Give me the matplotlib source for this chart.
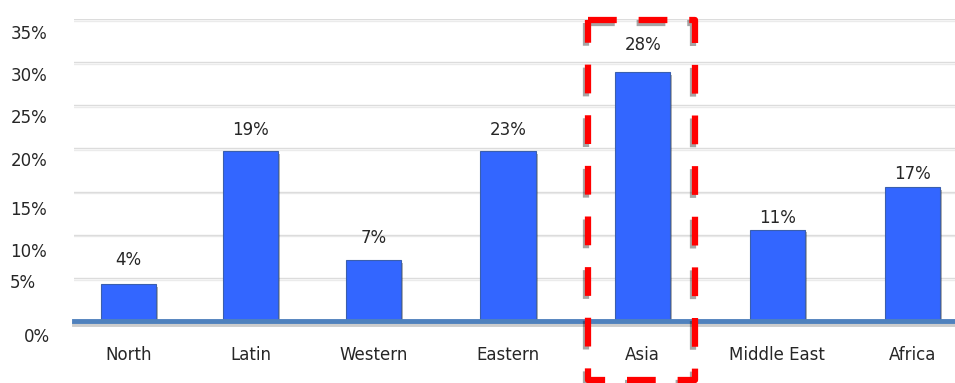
import matplotlib.pyplot as plt
import matplotlib.patheffects as pe

regions = ["North", "Latin", "Western", "Eastern", "Asia", "Middle East", "Africa"]
bar_heights = [4.3, 19.7, 7.1, 19.7, 28.8, 10.6, 15.5]
value_labels = ["4%", "19%", "7%", "23%", "28%", "11%", "17%"]
ytick_labels = ["0%", "5%", "10%", "15%", "20%", "25%", "30%", "35%"]

# layout (uneven spacing as in the original slide)
xpos = [0, 1, 2, 3.1, 4.2, 5.3, 6.4]
label_pad = [24, 21, 22, 21, 27, 12, 13]
ylabel_pos = [-1.9, 4.4, 8.0, 12.9, 18.5, 23.5, 28.4, 33.3]
ylabel_dx = [-24, -38, -27, -27, -27, -27, -27, -27]

fig = plt.figure(figsize=(9.55, 3.83), dpi=100)
ax = fig.add_axes([74 / 955, 1 - 321 / 383, 881 / 955, 302 / 383])

for g in range(5, 40, 5):
    ax.axhline(g, color="#dcdcdc", lw=1, zorder=1,
               path_effects=[pe.SimpleLineShadow(offset=(0, -1.2), alpha=0.08), pe.Normal()])

bars = ax.bar(xpos, bar_heights, width=0.45, color="#3366ff", edgecolor="#3a5fae",
              linewidth=0.8, zorder=3)
for b in bars:
    b.set_path_effects([pe.SimplePatchShadow(offset=(1.5, -2), shadow_rgbFace="k", alpha=0.3),
                        pe.Normal()])

ax.axhline(0, color="#4f81bd", lw=3.5, zorder=4, clip_on=False,
           path_effects=[pe.SimpleLineShadow(offset=(0, -2), alpha=0.2), pe.Normal()])

for x, h, t, p in zip(xpos, bar_heights, value_labels, label_pad):
    ax.annotate(t, (x, h), xytext=(0, p * 0.72), textcoords="offset points",
                ha="center", va="center", fontsize=12, color="#262626")

# y labels sit off the gridlines in the original, so place them as text
ytr = ax.get_yaxis_transform()
for y, t, dx in zip(ylabel_pos, ytick_labels, ylabel_dx):
    ax.annotate(t, (0, y), xycoords=ytr, xytext=(dx * 0.72, 0), textcoords="offset points",
                ha="right", va="center", fontsize=12, color="#262626", annotation_clip=False)

ax.set_xticks(xpos)
ax.set_xticklabels(regions, fontsize=12, color="#262626")
ax.tick_params(axis="x", length=0, pad=18)
ax.set_yticks([])
ax.set_xlim(-0.443, 6.75)
ax.set_ylim(0, 35)
for s in ax.spines.values():
    s.set_visible(False)

# highlight box around Asia
bx0, bx1, by0, by1 = 3.754, 4.627, -6.8, 34.9
ax.plot([bx0, bx1, bx1, bx0, bx0], [by1, by1, by0, by0, by1], color="#ff0000", lw=4.5,
        dashes=(4.6, 3.5), clip_on=False, zorder=6, solid_joinstyle="miter",
        path_effects=[pe.SimpleLineShadow(offset=(-1.5, -2.5), alpha=0.35), pe.Normal()])

fig.savefig("out.png", dpi=100)
